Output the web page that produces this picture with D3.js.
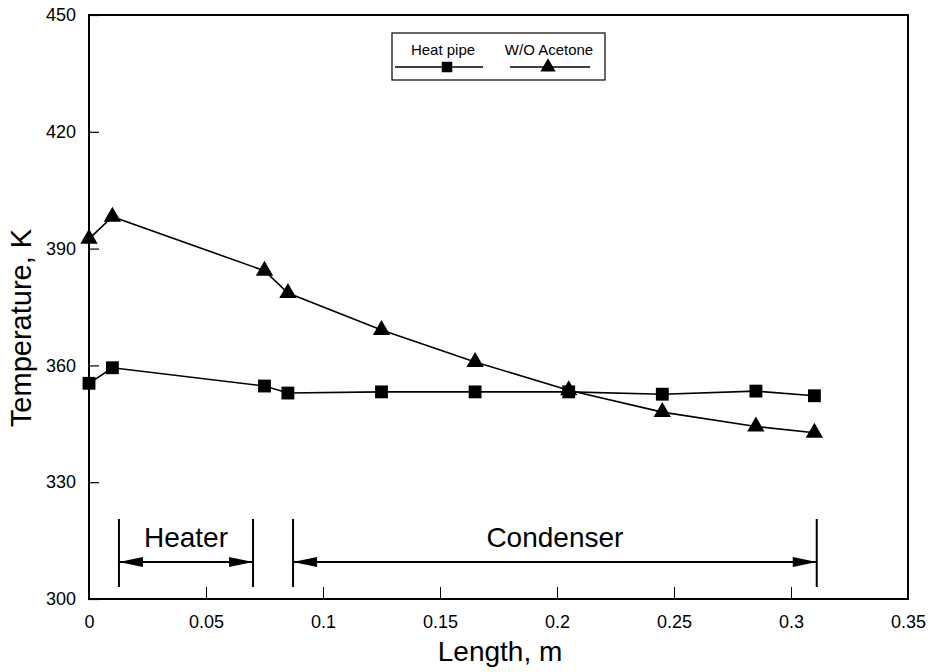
<!DOCTYPE html>
<html>
<head>
<meta charset="utf-8">
<script src="https://cdn.jsdelivr.net/npm/d3@7"></script>
<style>
  body { margin: 0; background: #fff; }
  text { font-family: "Liberation Sans", Arial, sans-serif; fill: #000; }
</style>
</head>
<body>
<div id="chart"></div>
<script>
// data
var lengthHeatPipe = [0, 0.01, 0.075, 0.085, 0.125, 0.165, 0.205, 0.245, 0.285, 0.31];
var tempHeatPipe = [355.4, 359.4, 354.7, 352.9, 353.2, 353.2, 353.2, 352.6, 353.4, 352.2];
var lengthAcetone = [0, 0.01, 0.075, 0.085, 0.125, 0.165, 0.205, 0.245, 0.285, 0.31];
var tempAcetone = [392.5, 398.2, 384.3, 378.6, 369.1, 360.9, 353.6, 348.0, 344.3, 342.7];
var xTicks = [0, 0.05, 0.1, 0.15, 0.2, 0.25, 0.3, 0.35];
var yTicks = [300, 330, 360, 390, 420, 450];
var heaterZone = [0.0128, 0.0701];
var condenserZone = [0.0872, 0.311];

var width = 930, height = 672;
var margin = {left: 89, right: 22, top: 15, bottom: 73};

var svg = d3.select('#chart').append('svg')
    .attr('width', width)
    .attr('height', height);

var x = d3.scaleLinear().domain([0, 0.35]).range([margin.left, width - margin.right]);
var y = d3.scaleLinear().domain([300, 450]).range([height - margin.bottom, margin.top]);

// axes, ticks pointing inward
var xAxis = svg.append('g')
    .attr('transform', 'translate(0,' + y(300) + ')')
    .call(d3.axisBottom(x).tickValues(xTicks).tickSizeInner(-12).tickSizeOuter(0)
        .tickFormat(function(d) { return d === 0 ? '0' : String(+d.toFixed(2)); }));
xAxis.select('.domain').remove();
xAxis.selectAll('line').attr('stroke-width', 1);
xAxis.selectAll('text').attr('font-size', 18).attr('dy', null).attr('y', 29);

var yAxis = svg.append('g')
    .attr('transform', 'translate(' + x(0) + ',0)')
    .call(d3.axisLeft(y).tickValues(yTicks).tickSizeInner(-10).tickSizeOuter(0));
yAxis.select('.domain').remove();
yAxis.selectAll('line').attr('stroke-width', 1.2);
yAxis.selectAll('text').attr('font-size', 18).attr('x', -13);

// frame
svg.append('rect')
    .attr('x', x(0)).attr('y', y(450))
    .attr('width', x(0.35) - x(0)).attr('height', y(300) - y(450))
    .attr('fill', 'none').attr('stroke', '#000').attr('stroke-width', 2);

// axis titles
svg.append('text')
    .attr('x', 500).attr('y', 661)
    .attr('text-anchor', 'middle').attr('font-size', 28)
    .text('Length, m');
svg.append('text')
    .attr('transform', 'translate(31,' + 328 + ') rotate(-90)')
    .attr('text-anchor', 'middle').attr('font-size', 29)
    .text('Temperature, K');

// series
var line = d3.line()
    .x(function(d) { return x(d[0]); })
    .y(function(d) { return y(d[1]); });

var heatPipe = d3.zip(lengthHeatPipe, tempHeatPipe);
var acetone = d3.zip(lengthAcetone, tempAcetone);

svg.append('path').datum(acetone)
    .attr('d', line).attr('fill', 'none').attr('stroke', '#000').attr('stroke-width', 1.6);
svg.append('path').datum(heatPipe)
    .attr('d', line).attr('fill', 'none').attr('stroke', '#000').attr('stroke-width', 1.6);

var tri = d3.symbol().type(d3.symbolTriangle).size(130);
var sq = d3.symbol().type(d3.symbolSquare).size(165);

svg.selectAll('.tri').data(acetone).enter().append('path')
    .attr('class', 'tri')
    .attr('d', tri)
    .attr('transform', function(d) { return 'translate(' + x(d[0]) + ',' + y(d[1]) + ')'; })
    .attr('fill', '#000');
svg.selectAll('.sq').data(heatPipe).enter().append('path')
    .attr('class', 'sq')
    .attr('d', sq)
    .attr('transform', function(d) { return 'translate(' + x(d[0]) + ',' + y(d[1]) + ')'; })
    .attr('fill', '#000');

// heater / condenser annotations
function zone(range, label) {
    var g = svg.append('g');
    var x0 = x(range[0]), x1 = x(range[1]);
    var yTop = 519, yBot = 587, yArr = 562;
    [x0, x1].forEach(function(xx) {
        g.append('line').attr('x1', xx).attr('x2', xx).attr('y1', yTop).attr('y2', yBot)
            .attr('stroke', '#000').attr('stroke-width', 2);
    });
    g.append('line').attr('x1', x0).attr('x2', x1).attr('y1', yArr).attr('y2', yArr)
        .attr('stroke', '#000').attr('stroke-width', 2.2);
    var head = 24, hw = 5;
    g.append('path')
        .attr('d', 'M' + x0 + ',' + yArr + 'L' + (x0 + head) + ',' + (yArr - hw) + 'L' + (x0 + head) + ',' + (yArr + hw) + 'Z')
        .attr('fill', '#000');
    g.append('path')
        .attr('d', 'M' + x1 + ',' + yArr + 'L' + (x1 - head) + ',' + (yArr - hw) + 'L' + (x1 - head) + ',' + (yArr + hw) + 'Z')
        .attr('fill', '#000');
    g.append('text')
        .attr('x', (x0 + x1) / 2).attr('y', 547)
        .attr('text-anchor', 'middle').attr('font-size', 28)
        .text(label);
}
zone(heaterZone, 'Heater');
zone(condenserZone, 'Condenser');

// legend
var legend = svg.append('g');
legend.append('rect')
    .attr('x', 392).attr('y', 33).attr('width', 213).attr('height', 47)
    .attr('fill', '#fff').attr('stroke', '#000').attr('stroke-width', 1.2);
var legendItems = [
    {label: 'Heat pipe', tx: 443, cx: 447, x1: 395, x2: 483, symbol: d3.symbol().type(d3.symbolSquare).size(110)},
    {label: 'W/O Acetone', tx: 549, cx: 548, x1: 510, x2: 590, symbol: d3.symbol().type(d3.symbolTriangle).size(100)}
];
legendItems.forEach(function(it) {
    legend.append('text')
        .attr('x', it.tx).attr('y', 55)
        .attr('text-anchor', 'middle').attr('font-size', 15)
        .text(it.label);
    legend.append('line')
        .attr('x1', it.x1).attr('x2', it.x2).attr('y1', 67).attr('y2', 67)
        .attr('stroke', '#000').attr('stroke-width', 1.5);
    legend.append('path')
        .attr('d', it.symbol)
        .attr('transform', 'translate(' + it.cx + ',67)')
        .attr('fill', '#000');
});
</script>
</body>
</html>
